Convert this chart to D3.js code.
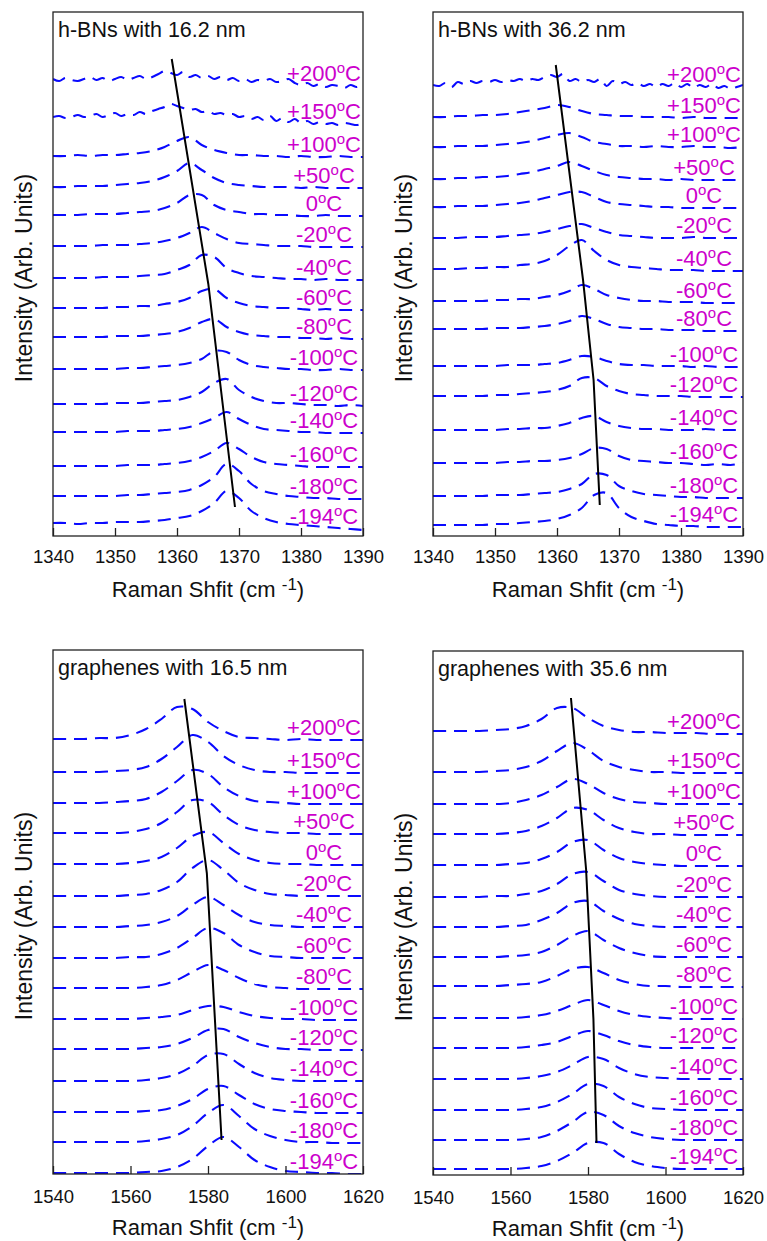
<!DOCTYPE html>
<html>
<head>
<meta charset="utf-8">
<script src="https://cdn.jsdelivr.net/npm/d3@7"></script>
<style>
  html, body { margin: 0; padding: 0; background: #fff; }
  svg { display: block; font-family: "Liberation Sans", Arial, Helvetica, sans-serif; }
</style>
</head>
<body>
<svg id="chart" width="767" height="1241"></svg>
<script>
// ---------------- data ----------------
var temps = ["+200", "+150", "+100", "+50", "0", "-20", "-40", "-60", "-80", "-100", "-120", "-140", "-160", "-180", "-194"];

var hbnRange = [1340, 1390];
var hbnTicks = [1340, 1350, 1360, 1370, 1380, 1390];
var grRange = [1540, 1620];
var grTicks = [1540, 1560, 1580, 1600, 1620];

// stacking offset of each spectrum (arb. units), top spectrum first
var hbn16Offsets = [456, 419, 380, 349, 321, 290, 258, 228, 199, 167, 132, 104, 70, 40, 13];
// intensity above the offset, evenly sampled over the shift range (1 or 2 cm-1 steps)
var hbn16Spectra = [
  [1,-1,2,0,-1,1,3,0,2,-1, 1,3,0,2,4,1,3,6,9,7, 5,8,3,5,2,4,1,3,0,2, -1,1,-2,0,-1,1,-2,-1,1,-3, -5,-3,-6,-4,-7,-5,-6,-8,-5,-7, -4],
  [0,1,-1,0,2,0,1,3,0,2, 4,1,3,2,5,3,6,8,10,13, 11,9,7,8,5,6,3,4,2,3, 0,1,-2,0,-3,1,-4,-1,-5,-2, -6,-4,-7,-5,-7,-6,-8,-6,-7,-8, -6],
  [0,0,1,0,1,1,2,3,5,9,15,19,11,6,3,1,1,0,0,-1,0,-1,-1,0,-1,-1],
  [0,0,1,1,1,2,3,4,6,10,16,24,17,9,4,2,1,0,0,0,-1,0,-1,-1,-1,-1],
  [0,0,0,1,1,1,2,3,4,7,12,20,20,10,5,3,1,1,0,0,-1,-1,0,-1,-1,-1],
  [0,0,0,0,1,1,1,2,3,5,8,13,19,13,7,3,2,1,0,0,0,-1,-1,-1,-1,-1],
  [0,0,0,0,1,1,1,2,3,4,8,13,23,21,10,5,2,1,0,-1,-1,-2,-1,-2,-2,-2],
  [0,0,0,0,0,1,1,2,2,4,6,10,17,19,10,5,2,1,0,0,-1,-2,-1,-2,-2,-2],
  [0,0,0,0,0,1,1,1,2,3,5,9,15,18,10,5,2,1,0,0,-1,-1,-2,-1,-2,-2],
  [0,0,0,0,0,0,1,1,2,3,4,6,10,18,17,9,4,2,1,0,0,-1,-1,0,-1,-1],
  [0,0,0,0,0,1,1,1,2,3,4,7,12,21,25,14,7,3,1,1,0,-1,-1,-2,-1,-2],
  [0,0,0,0,0,0,1,1,1,2,3,5,9,14,20,13,7,3,2,1,0,0,-1,-1,-1,-1],
  [0,0,0,0,0,0,1,1,1,2,3,5,9,15,23,17,9,4,2,1,0,-1,-1,-1,-1,-1],
  [0,0,0,0,0,0,1,1,2,3,4,6,11,19,32,25,12,5,2,0,-1,-2,-2,-3,-3,-3],
  [0,0,-1,0,0,1,1,1,2,3,5,7,12,20,32,25,12,5,1,-1,-2,-3,-4,-5,-6,-7]
];
// peak-position guide line: [shift, intensity]
var hbn16Trend = [[1359.15, 477], [1365.05, 252], [1369.35, 29]];

var hbn36Offsets = [451, 419, 389, 357, 329, 298, 267, 235, 207, 170, 140, 106, 73, 40, 11];
var hbn36Spectra = [
  [0,-1,2,-2,3,1,4,2,4,3, 5,3,5,4,6,4,6,5,8,10, 8,11,4,6,3,5,3,6,-1,4, 1,3,0,2,-1,1,-2,1,-1,2, -2,1,-3,0,-2,1,-3,-1,-4,-2, 0],
  [0,0,1,1,2,2,3,5,7,9,12,10,6,3,2,1,1,0,0,0,-1,0,-1,-1,-1,-1],
  [0,0,1,1,1,2,3,4,6,9,12,14,10,5,3,1,1,0,1,0,0,1,0,0,-1,0],
  [0,0,1,1,2,2,3,5,7,10,13,17,13,8,4,2,1,0,0,-1,0,-1,-1,-1,-1,-1],
  [0,0,1,1,1,2,3,4,6,9,12,15,15,10,5,3,2,1,0,0,-1,-1,-1,-1,-1,-1],
  [0,0,0,1,1,1,2,3,4,6,9,12,14,10,6,3,2,1,0,0,0,1,0,0,0,0],
  [0,0,0,1,1,2,2,4,5,8,14,23,29,18,9,4,2,1,0,-1,-1,-1,-2,-2,-2,-2],
  [0,0,0,0,0,1,1,2,2,4,6,10,16,12,6,3,1,0,0,-1,-1,-1,-2,-2,-2,-2],
  [0,0,0,0,0,1,1,1,2,3,5,8,13,10,5,2,1,0,0,-1,-1,-1,-2,-2,-2,-2],
  [0,0,0,0,0,0,1,1,1,2,3,6,10,9,5,2,1,1,0,0,0,-1,0,-1,-1,-1],
  [0,0,0,0,0,1,1,2,3,4,6,10,18,18,10,5,2,1,0,0,0,-1,-1,-1,-1,-1],
  [0,0,0,0,0,0,1,1,2,2,4,7,12,14,8,4,2,1,1,0,0,0,1,0,0,0],
  [0,0,0,0,0,0,1,1,2,2,3,5,9,15,14,7,3,2,1,0,0,-1,-2,-1,-2,0],
  [0,0,0,0,0,1,1,1,2,3,4,7,12,22,21,10,5,2,1,0,-1,-1,-2,-2,-2,-2],
  [0,0,0,0,0,1,1,2,3,4,6,10,17,30,32,17,8,4,1,0,-1,-1,-2,-2,-2,-2]
];
var hbn36Trend = [[1359.8, 471], [1364.2, 256], [1365.9, 156], [1366.9, 31]];

var gr16Offsets = [435, 402, 371, 341, 310, 278, 247, 216, 186, 155, 125, 93, 62, 32, 1];
var gr16Spectra = [
  [0,0,0,1,1,4,10,20,32,30,17,8,2,1,0,-1,0,-1,-1,-1,-1],
  [0,0,0,0,1,2,5,13,25,37,30,16,7,2,0,0,-1,-1,-1,-1,-1],
  [0,0,0,0,1,2,4,11,22,33,29,16,7,2,1,0,-1,-1,-1,-1,-1],
  [0,0,0,0,0,1,4,10,21,33,31,18,8,3,1,0,0,-1,-1,-1,-1],
  [0,0,0,0,0,1,3,7,16,28,32,21,10,4,1,0,0,-1,-1,-1,-1],
  [0,0,0,0,0,1,2,6,14,28,36,26,13,6,2,1,0,0,0,0,0],
  [0,0,0,0,0,1,2,5,11,22,30,22,12,5,2,1,0,0,0,0,0],
  [0,0,0,0,0,1,1,4,10,20,30,25,13,6,2,1,0,0,0,0,0],
  [0,0,0,0,0,0,1,3,8,16,23,18,10,4,1,0,-1,-1,-1,-1,-1],
  [0,0,0,0,0,0,1,2,4,9,13,12,7,3,1,0,0,-1,-1,-1,-1],
  [0,0,0,0,0,0,1,2,5,11,19,20,12,6,2,0,0,-1,-1,-1,-1],
  [0,0,0,0,0,0,1,3,7,15,26,27,17,8,3,1,0,0,0,0,0],
  [0,0,0,0,0,0,1,2,6,13,23,26,17,8,3,1,0,-1,-1,-1,-1],
  [0,0,0,0,0,0,1,3,7,16,29,37,26,13,6,2,0,0,-1,-1,-1],
  [0,0,0,0,0,0,1,2,6,14,27,36,26,13,6,2,1,0,0,-1,-1]
];
var gr16Trend = [[1573.9, 475], [1579.7, 301], [1583.5, 34]];

var gr36Offsets = [444, 403, 371, 341, 310, 278, 248, 218, 189, 157, 127, 96, 65, 35, 6];
var gr36Spectra = [
  [0,0,0,0,1,2,5,12,23,23,13,5,1,-1,-1,-2,-2,-2,-3,-3,-3],
  [0,0,0,0,1,2,5,11,21,29,22,11,5,2,0,0,-1,-1,-1,-1,-1],
  [0,0,0,0,0,1,4,9,17,25,20,11,5,2,1,0,0,0,0,0,0],
  [0,0,0,0,0,1,3,8,16,26,24,14,6,2,0,0,-1,-1,-1,-1,-1],
  [0,0,0,0,0,1,2,6,13,23,25,15,7,3,1,0,-1,-1,-1,-1,-1],
  [0,0,0,0,1,1,3,6,13,23,25,16,7,3,1,0,0,0,0,0,0],
  [0,0,0,0,0,1,2,7,14,24,26,16,8,3,1,0,0,0,0,0,0],
  [0,0,0,0,0,1,2,5,12,21,26,17,9,4,1,0,0,0,0,0,0],
  [0,0,0,0,0,1,2,4,10,17,19,13,6,2,0,0,-1,-1,-1,-1,-1],
  [0,0,0,0,0,0,1,3,7,13,18,13,7,3,1,0,-1,-1,-1,-1,-1],
  [0,0,0,0,0,0,1,3,6,12,17,13,7,3,1,0,0,0,0,0,0],
  [0,0,0,0,0,0,1,3,7,14,22,20,11,5,2,1,0,0,0,0,0],
  [0,0,0,0,0,0,1,3,8,16,26,24,13,6,2,1,0,0,0,0,0],
  [0,0,0,0,0,0,1,3,9,18,28,25,14,7,3,1,0,0,0,0,0],
  [0,0,0,0,0,0,1,3,8,16,26,26,15,7,3,1,0,0,0,0,0]
];
var gr36Trend = [[1575.6, 477], [1579.5, 306], [1581.4, 156], [1582.2, 32]];

// ---------------- layout ----------------
var W = 310, H = 524;
var intensityMax = 524;

var panels = [
  { title: "h-BNs with 16.2 nm", left: 53, top: 12, range: hbnRange, ticks: hbnTicks, offsets: hbn16Offsets, spectra: hbn16Spectra, trend: hbn16Trend, pad: 14 },
  { title: "h-BNs with 36.2 nm", left: 433, top: 12, range: hbnRange, ticks: hbnTicks, offsets: hbn36Offsets, spectra: hbn36Spectra, trend: hbn36Trend, pad: 14 },
  { title: "graphenes with 16.5 nm", left: 53, top: 650, range: grRange, ticks: grTicks, offsets: gr16Offsets, spectra: gr16Spectra, trend: gr16Trend, pad: 16 },
  { title: "graphenes with 35.6 nm", left: 433, top: 651, range: grRange, ticks: grTicks, offsets: gr36Offsets, spectra: gr36Spectra, trend: gr36Trend, pad: 16 }
];

var svg = d3.select("#chart");
panels.forEach(drawPanel);

function drawPanel(p) {
  var g = svg.append("g")
    .attr("transform", "translate(" + p.left + "," + p.top + ")");

  var x = d3.scaleLinear().domain(p.range).range([0, W]);
  var y = d3.scaleLinear().domain([0, intensityMax]).range([H, 0]);

  var line = d3.line()
    .x(function(d) { return x(d[0]); })
    .y(function(d) { return y(d[1]); })
    .curve(d3.curveCatmullRom.alpha(0.5));

  var series = p.spectra.map(function(vals, k) {
    var step = (p.range[1] - p.range[0]) / (vals.length - 1);
    return {
      temp: temps[k],
      points: vals.map(function(v, i) { return [p.range[0] + i * step, p.offsets[k] + v]; })
    };
  });

  g.append("defs").append("clipPath")
    .attr("id", "clip" + p.left + p.top)
    .append("rect").attr("width", W).attr("height", H);

  var plot = g.append("g").attr("clip-path", "url(#clip" + p.left + p.top + ")");

  plot.selectAll(".spectrum")
    .data(series)
    .enter().append("path")
    .attr("class", "spectrum")
    .attr("d", function(d) { return line(d.points); })
    .style("fill", "none")
    .style("stroke", "#0a0aff")
    .style("stroke-width", 2.1)
    .style("stroke-dasharray", "13,8");

  plot.append("path")
    .datum(p.trend)
    .attr("d", d3.line()
      .x(function(d) { return x(d[0]); })
      .y(function(d) { return y(d[1]); }))
    .style("fill", "none")
    .style("stroke", "#000")
    .style("stroke-width", 2);

  // temperature labels sit just above the right end of each spectrum
  var labels = g.selectAll(".temp")
    .data(series)
    .enter().append("text")
    .attr("class", "temp")
    .attr("x", W - 39)
    .attr("y", function(d) {
      var tail = d.points.slice(-4).map(function(q) { return q[1]; });
      return y(d3.mean(tail)) - 5;
    })
    .attr("text-anchor", "middle")
    .style("font-size", "22px")
    .style("fill", "#cc00cc");
  labels.append("tspan").text(function(d) { return d.temp; });
  labels.append("tspan").attr("dy", -8).style("font-size", "15px").text("o");
  labels.append("tspan").attr("dy", 8).text("C");

  var axis = d3.axisBottom(x)
    .tickValues(p.ticks)
    .tickFormat(d3.format("d"))
    .tickSizeInner(-8)
    .tickSizeOuter(0)
    .tickPadding(p.pad);

  var ax = g.append("g")
    .attr("transform", "translate(0," + H + ")")
    .call(axis);
  ax.select(".domain").remove();
  ax.selectAll("line").style("stroke", "#222").style("stroke-width", 1.3);
  ax.selectAll("text")
    .style("font-size", "18.5px")
    .style("font-family", "'Liberation Sans', Arial, sans-serif")
    .style("fill", "#111");

  g.append("rect")
    .attr("width", W)
    .attr("height", H)
    .style("fill", "none")
    .style("stroke", "#222")
    .style("stroke-width", 1.3);

  g.append("text")
    .attr("x", 5)
    .attr("y", 25)
    .style("font-size", "21.5px")
    .style("fill", "#111")
    .text(p.title);

  var xt = g.append("text")
    .attr("x", W / 2)
    .attr("y", H + 61)
    .attr("text-anchor", "middle")
    .style("font-size", "22px")
    .style("fill", "#111");
  xt.append("tspan").text("Raman Shfit (cm ");
  xt.append("tspan").attr("dy", -7).style("font-size", "17px").text("-1");
  xt.append("tspan").attr("dy", 7).text(")");

  g.append("text")
    .attr("transform", "translate(-21," + (H / 2 + 4) + ") rotate(-90)")
    .attr("text-anchor", "middle")
    .style("font-size", "23px")
    .style("fill", "#111")
    .text("Intensity (Arb. Units)");
}
</script>
</body>
</html>
